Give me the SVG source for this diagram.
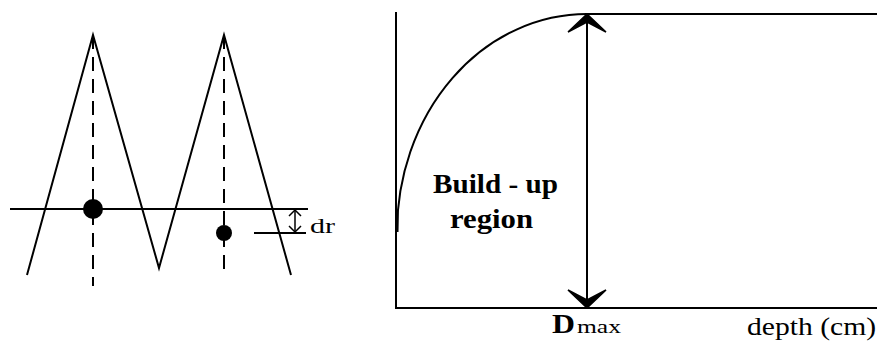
<svg xmlns="http://www.w3.org/2000/svg" width="877" height="343" viewBox="0 0 877 343">
<style>
.ln{stroke:#000;stroke-width:2;fill:none}
.dash{stroke:#000;stroke-width:2;fill:none;stroke-dasharray:14,8}
.ah{fill:#000;stroke:#000;stroke-width:1.5;stroke-linejoin:miter}
.serif{font-family:"Liberation Serif","Times New Roman",serif;fill:#000}
</style>
<rect width="877" height="343" fill="#fff"/>
<g id="left-figure">
  <polyline class="ln" points="27,275 93,35 159,268 224,35 291,275"/>
  <line class="ln" x1="10" y1="209" x2="308" y2="209"/>
  <line class="dash" x1="93" y1="35" x2="93" y2="286"/>
  <line class="dash" x1="224" y1="35" x2="224" y2="276"/>
  <circle cx="93" cy="209" r="10" fill="#000"/>
  <circle cx="224" cy="233" r="8" fill="#000"/>
  <line class="ln" x1="254" y1="233" x2="306" y2="233"/>
  <g id="dr-arrow">
    <line x1="295" y1="210" x2="295" y2="232" stroke="#000" stroke-width="1.5"/>
    <path d="M289,216 L295,210 L301,216 M289,226 L295,232 L301,226" stroke="#000" stroke-width="1.5" fill="none"/>
  </g>
  <text class="serif" x="310" y="233" font-size="21" textLength="25" lengthAdjust="spacingAndGlyphs">dr</text>
</g>
<g id="right-figure">
  <polyline class="ln" points="396,12 396,308 877,308"/>
  <line class="ln" x1="585" y1="14" x2="877" y2="14"/>
  <path class="ln" d="M397,232 A190,218 0 0 1 587,14" stroke-width="1.8"/>
  <line x1="397" y1="210" x2="397" y2="232" stroke="#000" stroke-width="3"/>
</g>
<g id="connectors">
  <line class="ln" x1="587" y1="16" x2="587" y2="306"/>
  <path class="ah" d="M587,14 L606,32 L587,22 L568,32 Z"/>
  <path class="ah" d="M587,308 L606,290 L587,300 L568,290 Z"/>
</g>
<g id="labels">
  <text class="serif" x="433" y="193" font-size="28" font-weight="bold" textLength="125" lengthAdjust="spacingAndGlyphs">Build - up</text>
  <text class="serif" x="450" y="228" font-size="28" font-weight="bold" textLength="83" lengthAdjust="spacingAndGlyphs">region</text>
  <text class="serif" x="552" y="333" font-size="28" font-weight="bold" textLength="23" lengthAdjust="spacingAndGlyphs">D</text>
  <text class="serif" x="577" y="333" font-size="18" textLength="44" lengthAdjust="spacingAndGlyphs">max</text>
  <text class="serif" x="747" y="335" font-size="25" textLength="129" lengthAdjust="spacingAndGlyphs">depth (cm)</text>
</g>
</svg>
